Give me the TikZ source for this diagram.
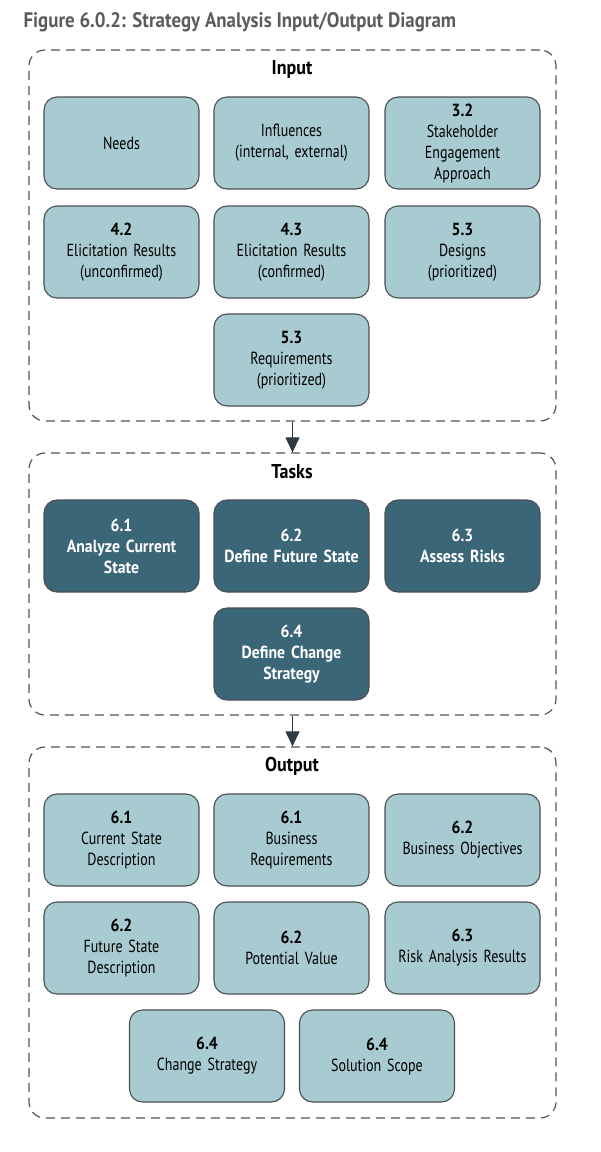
\documentclass[tikz,border=0pt]{standalone}
\usepackage{fontspec}
\setmainfont{PT Sans}[FakeStretch=0.8, BoldFeatures={FakeStretch=0.9}]
\usetikzlibrary{arrows.meta}
\definecolor{lightbox}{HTML}{A8CBD1}
\definecolor{darkbox}{HTML}{3B6677}
\definecolor{edgegray}{HTML}{4A4F52}
\definecolor{dashgray}{HTML}{555555}
\definecolor{titlegray}{HTML}{5C5C5C}
\definecolor{arrowdark}{HTML}{2F3B42}
\tikzset{
  x=1pt, y=-1pt,
  card/.style={draw=edgegray, line width=1.1pt, rounded corners=13pt,
    minimum width=155pt, minimum height=92pt, align=center, text width=150pt,
    font=\fontsize{17.5}{21}\selectfont, inner sep=0pt},
  inbox/.style={card, fill=lightbox, text=black},
  taskbox/.style={card, fill=darkbox, text=white, font=\fontsize{17.5}{21}\selectfont\bfseries},
  group/.style={draw=dashgray, line width=1.2pt, dash pattern=on 9pt off 6pt, rounded corners=16pt},
  grouplabel/.style={font=\fontsize{20}{22}\selectfont\bfseries, text=black},
  flow/.style={draw=arrowdark, line width=0.9pt, -{Triangle[length=15pt,width=14pt]}, arrowdark}
}
\begin{document}
\begin{tikzpicture}
\useasboundingbox (0,0) rectangle (601,1152);
\node[anchor=west, font=\fontsize{21}{22}\selectfont\bfseries, text=titlegray] (title) at (20,22) {Figure 6.0.2: Strategy Analysis Input/Output Diagram};

% Groups
\node[group, minimum width=527pt, minimum height=371pt] (gin) at (292.5,235.5) {};
\node[group, minimum width=527pt, minimum height=262pt] (gtask) at (292.5,584) {};
\node[group, minimum width=527pt, minimum height=371pt] (gout) at (292.5,932.5) {};

\node[grouplabel] (lin) at (292,69) {Input};
\node[grouplabel] (ltask) at (292,472) {Tasks};
\node[grouplabel] (lout) at (292,766) {Output};

% Input
\node[inbox] (needs) at (121.5,143) {Needs};
\node[inbox] (infl) at (291.5,143) {Influences\\(internal, external)};
\node[inbox] (stake) at (462.5,143) {\textbf{3.2}\\Stakeholder\\Engagement\\Approach};
\node[inbox] (elu) at (121.5,252) {\textbf{4.2}\\Elicitation Results\\(unconfirmed)};
\node[inbox] (elc) at (291.5,252) {\textbf{4.3}\\Elicitation Results\\(confirmed)};
\node[inbox] (des) at (462.5,252) {\textbf{5.3}\\Designs\\(prioritized)};
\node[inbox] (req) at (291.5,360) {\textbf{5.3}\\Requirements\\(prioritized)};

% Tasks
\node[taskbox] (t61) at (121.5,546) {6.1\\Analyze Current\\State};
\node[taskbox] (t62) at (291.5,546) {6.2\\Define Future State};
\node[taskbox] (t63) at (462.5,546) {6.3\\Assess Risks};
\node[taskbox] (t64) at (291.5,654) {6.4\\Define Change\\Strategy};

% Output
\node[inbox] (o1) at (121.5,840) {\textbf{6.1}\\Current State\\Description};
\node[inbox] (o2) at (291.5,840) {\textbf{6.1}\\Business\\Requirements};
\node[inbox] (o3) at (462.5,840) {\textbf{6.2}\\Business Objectives};
\node[inbox] (o4) at (121.5,948) {\textbf{6.2}\\Future State\\Description};
\node[inbox] (o5) at (291.5,948) {\textbf{6.2}\\Potential Value};
\node[inbox] (o6) at (462.5,948) {\textbf{6.3}\\Risk Analysis Results};
\node[inbox] (o7) at (207,1056) {\textbf{6.4}\\Change Strategy};
\node[inbox] (o8) at (377,1056) {\textbf{6.4}\\Solution Scope};

% Flows
\draw[flow] (gin.south) -- (gtask.north);
\draw[flow] (gtask.south) -- (gout.north);
\end{tikzpicture}
\end{document}
